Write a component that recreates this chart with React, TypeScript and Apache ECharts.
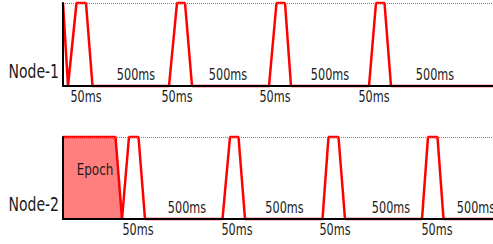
import React, { useEffect, useRef } from "react";
import * as echarts from "echarts";

// Waveform vertices (x in timeline units from the left axis, y: 0 = low, 1 = high)
const node1X = [0, 5, 13.5, 23, 29.5, 106, 114, 122, 129, 206, 213.5, 222, 228, 306, 313, 321.5, 328, 430];
const node1Y = [1, 0, 1, 1, 0, 0, 1, 1, 0, 0, 1, 1, 0, 0, 1, 1, 0, 0];

const epochX = [0, 52.5, 59];
const epochY = [1, 1, 0];

const node2X = [59, 66, 75.5, 82, 159.5, 167, 175.5, 182, 259.5, 265.5, 275.5, 282, 359, 365, 374.5, 380.5, 430];
const node2Y = [0, 1, 1, 0, 0, 1, 1, 0, 0, 1, 1, 0, 0, 1, 1, 0, 0];

// Annotation label positions (x) on each timeline
const node1ShortX = [23, 114, 212, 311];
const node1LongX = [73, 165, 267, 372];
const node2ShortX = [75, 174, 272, 374];
const node2LongX = [124, 221.5, 328, 413];
const shortLabel = "50ms";
const longLabel = "500ms";
const nodeNames = ["Node-1", "Node-2"];
const epochLabel = "Epoch";
const epochLabelPos = [32, 0.6];

const X_MAX = 430;
const RED = "#ff0000";
const FONT = "DejaVu Sans";

const zip = (xs: number[], ys: number[]) => xs.map((x, i) => [x, ys[i]]);

export default function App() {
  const ref = useRef<HTMLDivElement>(null);
  useEffect(() => {
    if (!ref.current) return;
    const chart = echarts.init(ref.current, null, { renderer: "svg" });
    const xAxisBase = (gridIndex: number) => ({
      type: "value",
      gridIndex,
      min: 0,
      max: X_MAX,
      z: 5,
      axisLine: { show: true, onZero: false, lineStyle: { color: "#000", width: 2 } },
      axisTick: { show: false },
      axisLabel: { show: false },
      splitLine: { show: false },
    });
    const yAxisBase = (gridIndex: number) => ({
      type: "value",
      gridIndex,
      min: 0,
      max: 1,
      interval: 1,
      z: 5,
      axisLine: { show: true, lineStyle: { color: "#000", width: 2 } },
      axisTick: { show: false },
      axisLabel: { show: false },
      splitLine: { show: true, lineStyle: { color: "#808080", type: [1, 1], width: 1 } },
    });
    const lineSeries = (idx: number, data: number[][], area = false) => ({
      type: "line",
      xAxisIndex: idx,
      yAxisIndex: idx,
      data,
      symbol: "none",
      clip: false,
      z: 2,
      lineStyle: { color: RED, width: 2.5 },
      areaStyle: area ? { color: "#ff7f7f", opacity: 1, origin: "start" } : undefined,
      silent: true,
    });
    chart.setOption({
      animation: false,
      grid: [
        { left: 63, right: 0, top: 3, height: 83 },
        { left: 63, right: 0, top: 137, height: 82 },
      ],
      xAxis: [xAxisBase(0), xAxisBase(1)],
      yAxis: [yAxisBase(0), yAxisBase(1)],
      series: [
        lineSeries(0, zip(node1X, node1Y)),
        lineSeries(1, zip(epochX, epochY), true),
        lineSeries(1, zip(node2X, node2Y)),
      ],
    });

    const px = (g: number, p: number[]) => chart.convertToPixel({ gridIndex: g }, p) as number[];
    const txt = (x: number, y: number, text: string, size: number, sx: number, align = "center") => ({
      type: "text",
      x,
      y,
      z: 20,
      scaleX: sx,
      silent: true,
      style: {
        text,
        fill: "#1a1a1a",
        fontSize: size,
        fontFamily: FONT,
        align,
        verticalAlign: "middle",
        textAlign: align,
        textVerticalAlign: "middle",
      },
    });
    const graphics: any[] = [];
    const addLabels = (g: number, xs: number[], label: string, dy: number) => {
      xs.forEach((x) => {
        const p = px(g, [x, 0]);
        graphics.push(txt(p[0], p[1] + dy, label, 15, 0.75));
      });
    };
    addLabels(0, node1ShortX, shortLabel, 10.5);
    addLabels(0, node1LongX, longLabel, -11);
    addLabels(1, node2ShortX, shortLabel, 11);
    addLabels(1, node2LongX, longLabel, -11);
    nodeNames.forEach((name, g) => {
      const p = px(g, [0, 0]);
      graphics.push(txt(p[0] - 4, p[1] - 14.5, name, 20, 0.7, "right"));
    });
    const ep = px(1, epochLabelPos);
    graphics.push(txt(ep[0], ep[1], epochLabel, 16, 0.75));
    chart.setOption({ graphic: { elements: graphics } });

    return () => chart.dispose();
  }, []);
  return (
    <div
      ref={ref}
      style={{ position: "fixed", left: 0, top: 0, width: 493, height: 244, background: "#fff" }}
    />
  );
}
